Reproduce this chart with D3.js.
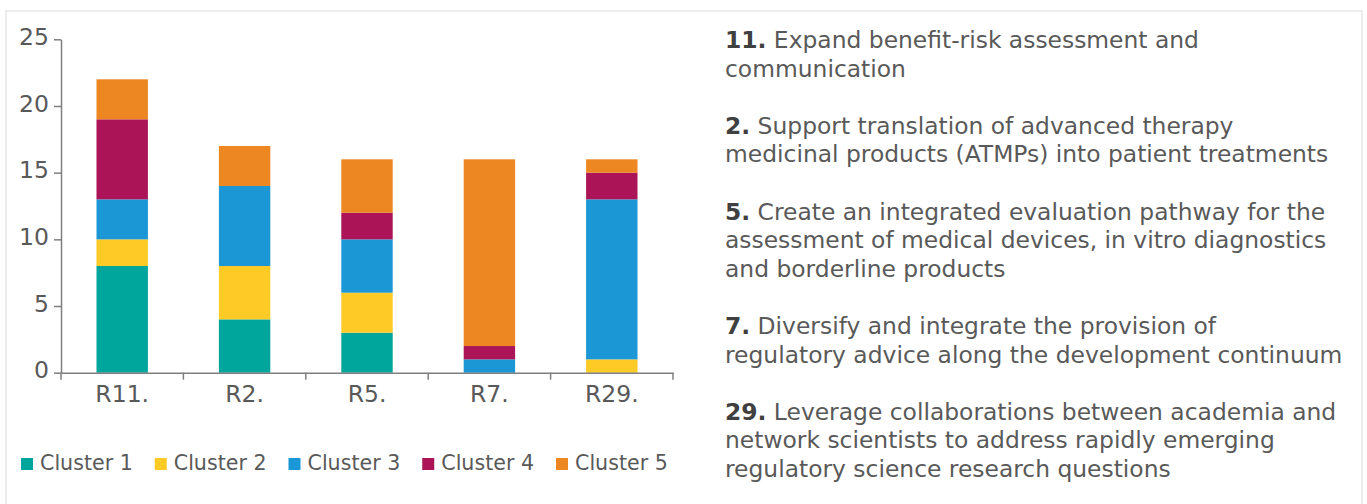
<!DOCTYPE html>
<html>
<head>
<meta charset="utf-8">
<script src="https://cdn.jsdelivr.net/npm/d3@7"></script>
<style>
  body { margin: 0; background: #fff; }
  text { font-family: "DejaVu Sans", Verdana, sans-serif; }
</style>
</head>
<body>
<div id="wrapper"></div>
<script>
// data
const categories = ["R11.", "R2.", "R5.", "R7.", "R29."]
const seriesNames = ["Cluster 1", "Cluster 2", "Cluster 3", "Cluster 4", "Cluster 5"]
const cluster1 = [8, 4, 3, 0, 0]
const cluster2 = [2, 4, 3, 0, 1]
const cluster3 = [3, 6, 4, 1, 12]
const cluster4 = [6, 0, 2, 1, 2]
const cluster5 = [3, 3, 4, 14, 1]
const yTicks = [0, 5, 10, 15, 20, 25]
const colors = ["#00a59b", "#fdca26", "#1b97d5", "#ab1456", "#ec8722"]

// description paragraphs on the right: [number, lines...]
const notes = [
  ["11.", "Expand benefit-risk assessment and", "communication"],
  ["2.", "Support translation of advanced therapy", "medicinal products (ATMPs) into patient treatments"],
  ["5.", "Create an integrated evaluation pathway for the", "assessment of medical devices, in vitro diagnostics", "and borderline products"],
  ["7.", "Diversify and integrate the provision of", "regulatory advice along the development continuum"],
  ["29.", "Leverage collaborations between academia and", "network scientists to address rapidly emerging", "regulatory science research questions"],
]

function drawChart() {
  const dimensions = {
    width: 1367,
    height: 504,
    margins: { top: 39.3, left: 61 },
    boundedWidth: 612,
    boundedHeight: 333.4,
  }

  const rows = categories.map((c, i) => ({
    cat: c,
    "Cluster 1": cluster1[i],
    "Cluster 2": cluster2[i],
    "Cluster 3": cluster3[i],
    "Cluster 4": cluster4[i],
    "Cluster 5": cluster5[i],
  }))
  const stacked = d3.stack().keys(seriesNames)(rows)

  const svg = d3.select("#wrapper")
    .append("svg")
      .attr("width", dimensions.width)
      .attr("height", dimensions.height)

  // light frame
  svg.append("rect")
    .attr("x", 6)
    .attr("y", 11)
    .attr("width", 1356)
    .attr("height", 520)
    .attr("fill", "none")
    .attr("stroke", "#ececec")
    .attr("stroke-width", 2)

  const bounds = svg.append("g")
    .attr("transform", `translate(${dimensions.margins.left},${dimensions.margins.top})`)

  const xScale = d3.scaleBand()
    .domain(categories)
    .range([0, dimensions.boundedWidth])
    .padding(0)

  const yScale = d3.scaleLinear()
    .domain([0, 25])
    .range([dimensions.boundedHeight, 0])

  const barWidth = xScale.bandwidth() * 0.42

  // bars
  bounds.selectAll("g.series")
    .data(stacked)
    .join("g")
      .attr("class", "series")
      .attr("fill", (d, i) => colors[i])
    .selectAll("rect")
    .data(d => d)
    .join("rect")
      .attr("x", d => xScale(d.data.cat) + (xScale.bandwidth() - barWidth) / 2)
      .attr("width", barWidth)
      .attr("y", d => yScale(d[1]))
      .attr("height", d => yScale(d[0]) - yScale(d[1]))

  // y axis
  const yAxisGenerator = d3.axisLeft(yScale)
    .tickValues(yTicks)
    .tickSize(7)
    .tickSizeOuter(0)
    .tickPadding(5)
  const yAxis = bounds.append("g").call(yAxisGenerator)
  yAxis.select(".domain").attr("stroke", "#7f7f7f").attr("stroke-width", 1.5)
  yAxis.selectAll(".tick line").attr("stroke", "#7f7f7f").attr("stroke-width", 1.5)
  yAxis.selectAll(".tick text")
    .attr("font-size", 23.5)
    .attr("fill", "#595959")
    .attr("dy", "0.22em")

  // x axis, ticks sit on category boundaries
  const xAxisGenerator = d3.axisBottom(xScale)
    .tickSize(0)
    .tickSizeOuter(0)
    .tickPadding(14)
  const xAxis = bounds.append("g")
    .attr("transform", `translate(0,${dimensions.boundedHeight})`)
    .call(xAxisGenerator)
  xAxis.select(".domain").attr("stroke", "#7f7f7f").attr("stroke-width", 1.5)
  xAxis.selectAll(".tick text")
    .attr("font-size", 23.5)
    .attr("fill", "#595959")
    .attr("dy", "0.66em")

  const boundaries = categories.map(c => xScale(c)).concat([dimensions.boundedWidth])
  xAxis.selectAll("line.boundary")
    .data(boundaries)
    .join("line")
      .attr("class", "boundary")
      .attr("x1", d => d)
      .attr("x2", d => d)
      .attr("y1", 0)
      .attr("y2", 7)
      .attr("stroke", "#7f7f7f")
      .attr("stroke-width", 1.5)

  // legend
  const legend = svg.append("g")
    .attr("transform", "translate(21,458)")
  let lx = 0
  seriesNames.forEach((name, i) => {
    const item = legend.append("g").attr("transform", `translate(${lx},0)`)
    item.append("rect")
      .attr("width", 12)
      .attr("height", 12)
      .attr("fill", colors[i])
    const t = item.append("text")
      .attr("x", 19)
      .attr("y", 12)
      .attr("font-size", 20.6)
      .attr("fill", "#595959")
      .text(name)
    lx += 19 + t.node().getComputedTextLength() + 22
  })

  // notes on the right
  const lineHeight = 28.6
  const notesGroup = svg.append("g")
    .attr("transform", "translate(725,48)")
  let slot = 0
  notes.forEach(note => {
    const [num, ...lines] = note
    lines.forEach((line, j) => {
      const t = notesGroup.append("text")
        .attr("x", 0)
        .attr("y", slot * lineHeight)
        .attr("font-size", 23.4)
        .attr("fill", "#595959")
      if (j === 0) {
        t.append("tspan")
          .attr("font-weight", "bold")
          .attr("fill", "#404040")
          .text(num)
        t.append("tspan").text(" " + line)
      } else {
        t.text(line)
      }
      slot += 1
    })
    slot += 1
  })
}

drawChart()
</script>
</body>
</html>
